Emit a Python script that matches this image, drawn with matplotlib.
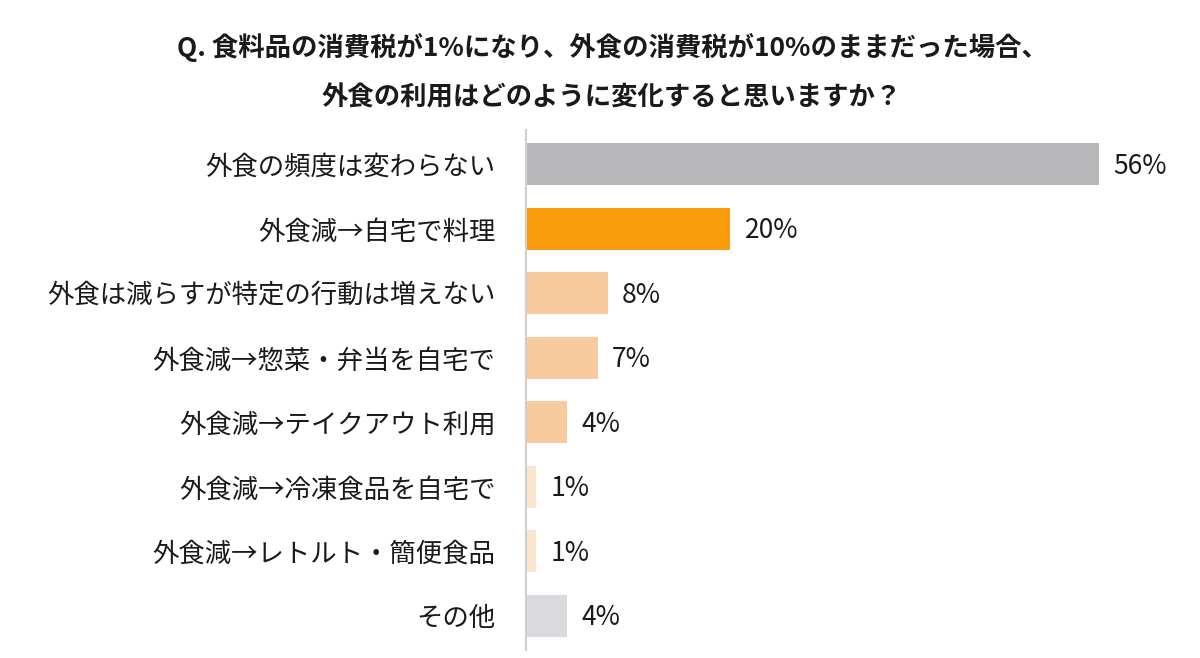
import matplotlib.pyplot as plt

plt.rcParams['font.family'] = ['Noto Sans CJK JP', 'DejaVu Sans']

categories = [
    "外食の頻度は変わらない",
    "外食減→自宅で料理",
    "外食は減らすが特定の行動は増えない",
    "外食減→惣菜・弁当を自宅で",
    "外食減→テイクアウト利用",
    "外食減→冷凍食品を自宅で",
    "外食減→レトルト・簡便食品",
    "その他",
]
values = [56, 20, 8, 7, 4, 1, 1, 4]
colors = ["#b8b7ba", "#fb9c0c", "#f7cb9e", "#f7cb9e", "#f7cb9e",
          "#fbe6cd", "#fbe6cd", "#dad9dd"]
title = ("Q. 食料品の消費税が1%になり、外食の消費税が10%のままだった場合、\n"
         "外食の利用はどのように変化すると思いますか？")

fig = plt.figure(figsize=(12, 6.58), dpi=100)
ax = fig.add_axes([0.4383, 0.012, 0.5283, 0.7905])

y = list(range(len(categories)))
ax.barh(y, values, height=0.65, color=colors)
for yi, v in zip(y, values):
    ax.text(v + 1.4, yi + 0.03, f"{v}%", va="center", ha="left", fontsize=19, color="#1a1a1a")

ax.set_xlim(0, 62)
ax.set_ylim(7.53, -0.53)
ax.set_yticks(y)
ax.set_yticklabels(categories, fontsize=19, color="#1a1a1a")
ax.tick_params(axis="y", length=0, pad=22)
ax.set_xticks([])
for s in ["top", "right", "bottom"]:
    ax.spines[s].set_visible(False)
ax.spines["left"].set_color("#cfcfcf")
ax.spines["left"].set_linewidth(1.5)

fig.text(0.51, 0.89, title, ha="center", va="center", fontsize=19, fontweight="bold",
         color="#1a1a1a", linespacing=2.1)

fig.savefig("out.png", dpi=100, facecolor="white")
